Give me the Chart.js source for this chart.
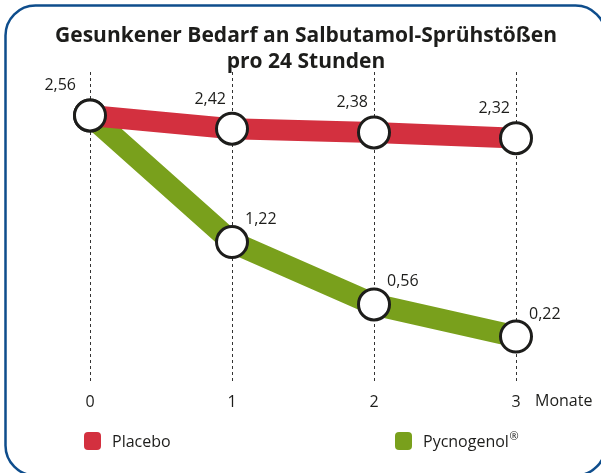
<!DOCTYPE html>
<html>
<head>
<meta charset="utf-8">
<script src="https://cdn.jsdelivr.net/npm/chart.js@4.4.1/dist/chart.umd.min.js"></script>
<style>
  html, body { margin: 0; padding: 0; background: #ffffff; }
  #wrap { position: relative; width: 601px; height: 473px; }
</style>
</head>
<body>
<div id="wrap"><canvas id="c" width="601" height="473"></canvas></div>
<script>
const titleLines = ['Gesunkener Bedarf an Salbutamol-Sprühstößen', 'pro 24 Stunden'];
const months = ['0', '1', '2', '3'];
const axisUnit = 'Monate';
const placeboValues = [2.56, 2.42, 2.38, 2.32];
const pycnogenolValues = [2.56, 1.22, 0.56, 0.22];
const seriesNames = ['Placebo', 'Pycnogenol®'];

const RED = '#d3303f';
const GREEN = '#79a01c';
const INK = '#1d1d1b';
const FONT = '"Open Sans", "DejaVu Sans", sans-serif';

function fmt(v) { return v.toFixed(2).replace('.', ','); }

const decorPlugin = {
  id: 'decor',
  beforeDraw(chart) {
    const ctx = chart.ctx;
    ctx.save();
    ctx.fillStyle = '#ffffff';
    ctx.fillRect(0, 0, chart.width, chart.height);
    ctx.strokeStyle = '#0e4d8c';
    ctx.lineWidth = 2.5;
    ctx.beginPath();
    ctx.roundRect(5.5, 5.5, 600, 470, 30);
    ctx.stroke();
    ctx.restore();
  },
  afterDatasetsDraw(chart) {
    const ctx = chart.ctx;
    ctx.save();
    ctx.font = '16px ' + FONT;
    ctx.fillStyle = INK;
    ctx.textBaseline = 'alphabetic';
    chart.data.datasets.forEach((ds, di) => {
      const meta = chart.getDatasetMeta(di);
      meta.data.forEach((pt, i) => {
        if (di === 1 && i === 0) return;
        const txt = fmt(ds.data[i]);
        if (di === 0) {
          ctx.textAlign = 'right';
          ctx.fillText(txt, pt.x - (i === 0 ? 14 : 6), pt.y - 25);
        } else {
          ctx.textAlign = 'left';
          ctx.fillText(txt, pt.x + 13, pt.y - 18);
        }
      });
    });
    ctx.restore();
  },
  afterDraw(chart) {
    const ctx = chart.ctx;
    ctx.save();
    // title
    ctx.fillStyle = INK;
    ctx.textAlign = 'center';
    ctx.textBaseline = 'alphabetic';
    ctx.font = 'bold 21px ' + FONT;
    ctx.fillText(titleLines[0], 306, 42);
    ctx.fillText(titleLines[1], 306, 68);
    // axis unit
    const xs = chart.scales.x;
    ctx.font = '16px ' + FONT;
    ctx.textAlign = 'left';
    ctx.textBaseline = 'alphabetic';
    ctx.fillText(axisUnit, xs.getPixelForTick(months.length - 1) + 19, 406);
    // legend
    const legendX = [84, 395];
    chart.data.datasets.forEach((ds, di) => {
      const x = legendX[di];
      ctx.fillStyle = ds.borderColor;
      ctx.beginPath();
      ctx.roundRect(x, 432, 17, 18, 4);
      ctx.fill();
      ctx.fillStyle = INK;
      let label = ds.label;
      let sup = '';
      if (label.endsWith('®')) { sup = '®'; label = label.slice(0, -1); }
      ctx.font = '16px ' + FONT;
      ctx.fillText(label, x + 28, 447);
      if (sup) {
        const w = ctx.measureText(label).width;
        ctx.font = '11px ' + FONT;
        ctx.fillText(sup, x + 28 + w + 0.5, 440);
      }
    });
    ctx.restore();
  }
};

new Chart(document.getElementById('c'), {
  type: 'line',
  data: {
    labels: months,
    datasets: [
      {
        label: seriesNames[0],
        data: placeboValues,
        borderColor: RED,
        backgroundColor: RED,
        borderWidth: 21,
        pointRadius: 15.5,
        pointBorderWidth: 3,
        pointBackgroundColor: '#ffffff',
        pointBorderColor: INK,
        tension: 0,
        fill: false
      },
      {
        label: seriesNames[1],
        data: pycnogenolValues,
        borderColor: GREEN,
        backgroundColor: GREEN,
        borderWidth: 22,
        pointRadius: 15.5,
        pointBorderWidth: 3,
        pointBackgroundColor: '#ffffff',
        pointBorderColor: INK,
        tension: 0,
        fill: false
      }
    ]
  },
  options: {
    responsive: false,
    animation: false,
    events: [],
    layout: { padding: { left: 90, right: 85, top: 72, bottom: 51 } },
    plugins: {
      legend: { display: false },
      title: { display: false },
      tooltip: { enabled: false }
    },
    scales: {
      x: {
        type: 'category',
        offset: false,
        grid: { display: true, drawTicks: false, color: '#333333', lineWidth: 1 },
        border: { display: false, dash: [3, 3] },
        ticks: { color: INK, font: { family: FONT, size: 16 }, padding: 10, maxRotation: 0, autoSkip: false }
      },
      y: {
        display: false,
        min: -0.27,
        max: 3.02
      }
    }
  },
  plugins: [decorPlugin]
});
</script>
</body>
</html>
